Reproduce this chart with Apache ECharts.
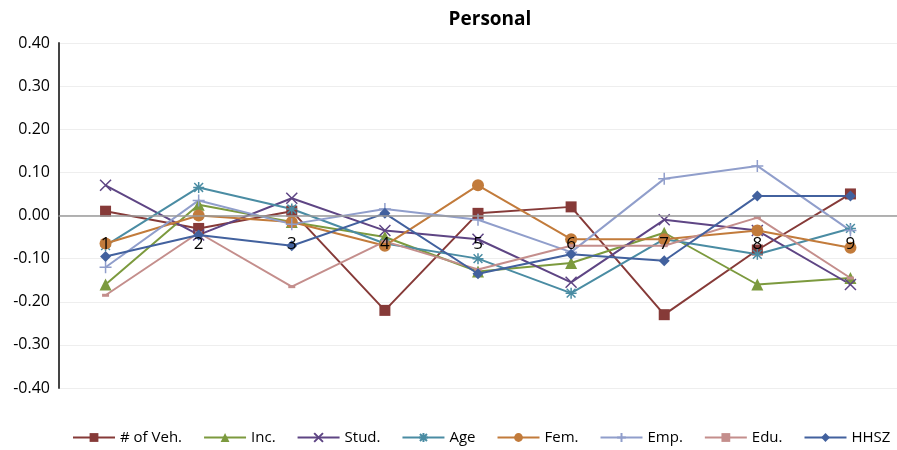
<!DOCTYPE html>
<html>
<head>
<meta charset="utf-8">
<script src="https://cdn.jsdelivr.net/npm/echarts@6/dist/echarts.min.js"></script>
<style>html,body{margin:0;padding:0;background:#fff}#chart{width:897px;height:450px}</style>
</head>
<body>
<div id="chart"></div>
<script>
// 数据
const categories = ['1', '2', '3', '4', '5', '6', '7', '8', '9'];
const yTicks = [-0.4, -0.3, -0.2, -0.1, 0, 0.1, 0.2, 0.3, 0.4];
const veh = [0.01, -0.03, 0.01, -0.22, 0.005, 0.02, -0.23, -0.08, 0.05];
const inc = [-0.16, 0.025, -0.015, -0.05, -0.13, -0.11, -0.04, -0.16, -0.145];
const stud = [0.07, -0.045, 0.04, -0.035, -0.055, -0.155, -0.01, -0.035, -0.16];
const age = [-0.07, 0.065, 0.015, -0.065, -0.1, -0.18, -0.055, -0.09, -0.03];
const fem = [-0.065, 0, -0.015, -0.07, 0.07, -0.055, -0.055, -0.035, -0.075];
const emp = [-0.12, 0.035, -0.02, 0.015, -0.01, -0.085, 0.085, 0.115, -0.035];
const edu = [-0.185, -0.04, -0.165, -0.06, -0.125, -0.07, -0.07, -0.005, -0.145];
const hhsz = [-0.095, -0.045, -0.07, 0.005, -0.135, -0.09, -0.105, 0.045, 0.045];

const seriesDefs = [
    { name: '# of Veh.', data: veh, color: '#863A38', symbol: 'rect', size: 11 },
    { name: 'Inc.', data: inc, color: '#7C9A3E', symbol: 'triangle', size: 12 },
    { name: 'Stud.', data: stud, color: '#5E4584', symbol: 'path://M0,0L10,10M10,0L0,10', size: 11 },
    { name: 'Age', data: age, color: '#4A8CA3', symbol: 'path://M0,5L10,5M5,0L5,10M1,1L9,9M9,1L1,9', size: 11 },
    { name: 'Fem.', data: fem, color: '#C27B3B', symbol: 'circle', size: 12 },
    { name: 'Emp.', data: emp, color: '#909ECB', symbol: 'path://M0,5L10,5M5,0L5,10', size: 12 },
    { name: 'Edu.', data: edu, color: '#C48E8C', symbol: 'rect', size: [7, 3] },
    { name: 'HHSZ', data: hhsz, color: '#42619E', symbol: 'diamond', size: 11 }
];

const chart = echarts.init(document.getElementById('chart'));
chart.setOption({
    animation: false,
    title: {
        text: 'Personal',
        left: 485,
        top: 5,
        textAlign: 'center',
        textStyle: { fontFamily: 'Open Sans', fontWeight: 'bold', fontSize: 19, color: '#000' }
    },
    legend: {
        bottom: 5,
        left: 72,
        width: 825,
        padding: 0,
        itemGap: 21,
        itemWidth: 42,
        itemHeight: 11,
        textStyle: { fontFamily: 'Open Sans', fontSize: 15, color: '#000' },
        data: seriesDefs.map(s => s.name)
    },
    grid: { left: 59, top: 43, width: 850, height: 345 },
    xAxis: {
        type: 'category',
        data: categories,
        boundaryGap: true,
        z: 10,
        axisLine: { onZero: true, lineStyle: { color: '#9a9a9a', width: 1.5 } },
        axisTick: { show: false },
        axisLabel: { color: '#000', fontFamily: 'Open Sans', fontSize: 17, margin: -152 }
    },
    yAxis: {
        type: 'value',
        min: -0.4,
        max: 0.4,
        interval: 0.1,
        axisLine: { show: true, lineStyle: { color: '#444', width: 2 } },
        axisTick: { show: false },
        splitLine: { lineStyle: { color: '#eeeeee' } },
        axisLabel: {
            color: '#000', fontFamily: 'Open Sans', fontSize: 16, margin: 9,
            formatter: v => v.toFixed(2)
        }
    },
    series: seriesDefs.map(s => ({
        name: s.name,
        type: 'line',
        data: s.data,
        symbol: s.symbol,
        symbolSize: s.size,
        lineStyle: { color: s.color, width: 2 },
        itemStyle: { color: s.color, borderColor: s.color, borderWidth: s.symbol.startsWith('path') ? 1.5 : 0 }
    }))
});
</script>
</body>
</html>
